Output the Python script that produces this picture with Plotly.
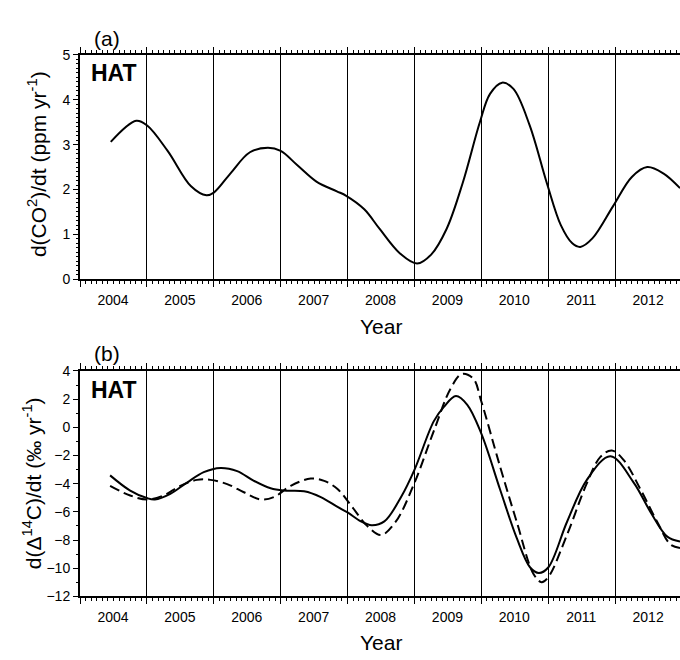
import plotly.graph_objects as go

# ---------------- data ----------------
co2_year = [2004.46, 2004.84, 2005.0, 2005.31, 2005.66, 2005.89, 2006.0, 2006.25, 2006.54, 2006.81,
            2007.0, 2007.25, 2007.54, 2007.84, 2007.98, 2008.25, 2008.48, 2008.78, 2009.04, 2009.25,
            2009.48, 2009.72, 2009.98, 2010.13, 2010.31, 2010.48, 2010.72, 2010.98, 2011.19, 2011.36,
            2011.48, 2011.66, 2011.97, 2012.25, 2012.48, 2012.72, 2012.97]
co2_rate = [3.06, 3.53, 3.43, 2.86, 2.07, 1.87, 1.93, 2.36, 2.83, 2.93,
            2.86, 2.54, 2.17, 1.96, 1.86, 1.56, 1.12, 0.58, 0.35, 0.55,
            1.12, 2.14, 3.51, 4.13, 4.38, 4.24, 3.44, 2.14, 1.20, 0.80,
            0.72, 0.91, 1.63, 2.28, 2.50, 2.36, 2.03]

c14_year_solid = [2004.45, 2004.75, 2005.0, 2005.12, 2005.35, 2005.6, 2005.85, 2006.1, 2006.35, 2006.6,
                  2006.85, 2007.05, 2007.35, 2007.6, 2007.85, 2008.0, 2008.2, 2008.36, 2008.55, 2008.8,
                  2009.0, 2009.29, 2009.44, 2009.62, 2009.79, 2010.0, 2010.28, 2010.53, 2010.73, 2010.86,
                  2011.0, 2011.28, 2011.58, 2011.93, 2012.28, 2012.53, 2012.78, 2012.97]
c14_rate_solid = [-3.41, -4.49, -5.02, -5.12, -4.72, -3.92, -3.18, -2.88, -3.11, -3.80,
                  -4.33, -4.49, -4.54, -4.95, -5.65, -6.04, -6.68, -6.95, -6.68, -4.95,
                  -3.02, 0.44, 1.45, 2.22, 1.60, -0.45, -4.41, -7.87, -9.95, -10.34,
                  -9.95, -6.72, -3.71, -2.05, -3.94, -6.02, -7.76, -8.10]

c14_year_dash = [2004.45, 2004.75, 2005.0, 2005.25, 2005.5, 2005.75, 2005.95, 2006.2, 2006.45, 2006.7,
                 2006.9, 2007.15, 2007.45, 2007.65, 2007.85, 2008.05, 2008.3, 2008.5, 2008.72, 2009.0,
                 2009.29, 2009.54, 2009.71, 2009.88, 2010.0, 2010.28, 2010.53, 2010.78, 2010.9, 2011.0,
                 2011.28, 2011.58, 2011.78, 2011.95, 2012.13, 2012.38, 2012.63, 2012.83, 2012.97]
c14_rate_dash = [-4.15, -4.84, -5.12, -4.84, -4.15, -3.73, -3.73, -4.03, -4.61, -5.12,
                 -4.95, -4.15, -3.64, -3.80, -4.38, -5.53, -7.03, -7.65, -6.70, -3.94,
                 -0.25, 2.75, 3.79, 3.45, 1.83, -2.79, -6.72, -10.41, -10.99, -10.64,
                 -7.64, -3.94, -2.10, -1.64, -2.33, -4.41, -6.72, -8.33, -8.56]

# ---------------- figure ----------------
FONT = "Liberation Sans, Arial, Helvetica, sans-serif"
W, H = 680, 660
XR = [2004.0, 2012.97]
XDOM = [80 / W, 1.0]
YDOM_A = [1 - 278 / H, 1 - 48 / H]
YDOM_B = [1 - 603 / H, 1 - 372 / H]
PX_PER_YEAR = (W - 80) / (XR[1] - XR[0])

fig = go.Figure()
fig.add_trace(go.Scatter(x=co2_year, y=co2_rate, mode="lines", xaxis="x", yaxis="y",
                         line=dict(color="black", width=2, shape="spline", smoothing=1.0),
                         showlegend=False, hoverinfo="skip"))
fig.add_trace(go.Scatter(x=c14_year_dash, y=c14_rate_dash, mode="lines", xaxis="x2", yaxis="y2",
                         line=dict(color="black", width=2, dash="10px,5px", shape="spline", smoothing=1.0),
                         showlegend=False, hoverinfo="skip"))
fig.add_trace(go.Scatter(x=c14_year_solid, y=c14_rate_solid, mode="lines", xaxis="x2", yaxis="y2",
                         line=dict(color="black", width=2, shape="spline", smoothing=1.0),
                         showlegend=False, hoverinfo="skip"))

tickfont = dict(family=FONT, size=14, color="black")

def x_axis(anchor):
    return dict(domain=XDOM, range=XR, anchor=anchor, side="bottom",
                tick0=2004, dtick=1, tickformat="d",
                ticks="outside", ticklen=6, tickwidth=1, tickcolor="black",
                minor=dict(tick0=2004, dtick=1 / 12, ticks="outside", ticklen=3, tickwidth=1,
                           tickcolor="black", showgrid=False),
                showticklabels=True, tickfont=tickfont,
                ticklabelshift=int(round(PX_PER_YEAR / 2)), ticklabelstandoff=1,
                showline=True, linewidth=2, linecolor="black", mirror="allticks",
                showgrid=True, gridcolor="black", gridwidth=1, zeroline=False, fixedrange=True)

def y_axis(dom, anchor, rng, dt, mdt):
    return dict(domain=dom, range=rng, anchor=anchor, tick0=0, dtick=dt,
                ticks="outside", ticklen=5, tickwidth=1, tickcolor="black",
                minor=dict(dtick=mdt, ticks="outside", ticklen=2.5, tickwidth=1, tickcolor="black",
                           showgrid=False),
                tickfont=tickfont, showline=True, linewidth=2, linecolor="black",
                showgrid=False, zeroline=False, fixedrange=True)

fig.update_layout(
    width=W, height=H, margin=dict(l=0, r=0, t=0, b=0),
    paper_bgcolor="white", plot_bgcolor="white",
    font=dict(family=FONT, color="black"),
    xaxis=x_axis("y"),
    xaxis2=x_axis("y2"),
    yaxis=y_axis(YDOM_A, "x", [0, 5], 1, 0.1),
    yaxis2=y_axis(YDOM_B, "x2", [-12, 4], 2, 1),
)

ann = [
    dict(text="(a)", x=107 / W, y=1 - 31 / H, font=dict(size=21)),
    dict(text="(b)", x=107 / W, y=1 - 354 / H, font=dict(size=21)),
    dict(text="<b>HAT</b>", x=89 / W, y=1 - 67 / H, xanchor="left", font=dict(size=23)),
    dict(text="<b>HAT</b>", x=89 / W, y=1 - 392 / H, xanchor="left", font=dict(size=23)),
    dict(text="d(CO<sup>2</sup>)/dt (ppm yr<sup>-1</sup>)", x=37 / W, y=1 - 160 / H,
         textangle=-90, font=dict(size=21)),
    dict(text="d(Δ<sup>14</sup>C)/dt (‰ yr<sup>-1</sup>)", x=32 / W, y=1 - 487 / H,
         textangle=-90, font=dict(size=21)),
    dict(text="Year", x=381 / W, y=1 - 326 / H, font=dict(size=21)),
    dict(text="Year", x=381 / W, y=1 - 650 / H, font=dict(size=21)),
]
for a in ann:
    a.setdefault("xanchor", "center")
    a.update(xref="paper", yref="paper", yanchor="middle", showarrow=False)
    a["font"].update(family=FONT, color="black")
fig.update_layout(annotations=ann)

fig.write_html("out.html")
